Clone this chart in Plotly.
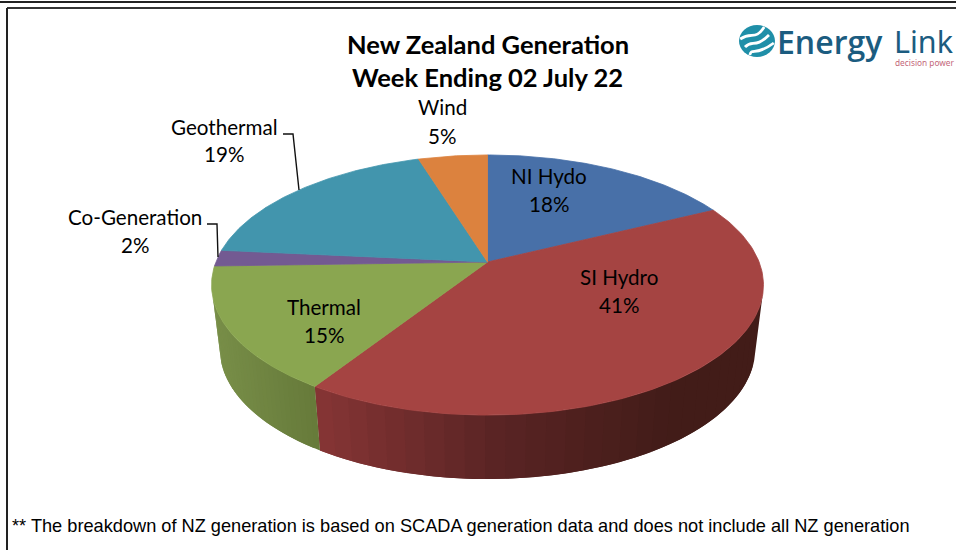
import numpy as np
import plotly.graph_objects as go

# ---- data ----
categories = ["NI Hydo", "SI Hydro", "Thermal", "Co-Generation", "Geothermal", "Wind"]
values = [17.7, 41.4, 15.4, 2.0, 18.7, 4.8]
title_lines = ["New Zealand Generation", "Week Ending 02 July 22"]
footnote = "** The breakdown of NZ generation is based on SCADA generation data and does not include all NZ generation"

# ---- style ----
top_colors = ["#4870a8", "#a54442", "#8aa650", "#735a92", "#4295ad", "#dc823e"]
side_stops = {
    1: [(0.0, (134, 53, 53)), (0.4, (90, 36, 36)), (0.8, (66, 28, 24)), (1.0, (66, 28, 24))],
    2: [(0.0, (120, 142, 72)), (1.0, (102, 122, 58))],
}
CX, CY, A, B, K = 487.5, 262.0, 271.6, 126.0, 0.177
DEPTH = 64.0
LOWER_SCALE = 0.97
label_pos = [(549, 176, 204), (619, 277, 305), (324, 307, 335), (135, 217, 245), (224, 127, 154), (442, 107, 136)]
FONT = "Lato"


def project(theta, dy=0.0):
    s, z = np.sin(theta), np.cos(theta)
    w = 1 + K * z
    return CX + A * s / w, CY + dy - B * z / w


fig = go.Figure()


def poly(x, y, color, lw=0.8):
    fig.add_trace(go.Scatter(x=x, y=y, mode="lines", fill="toself", fillcolor=color,
                             line=dict(color=color, width=lw), hoverinfo="skip", showlegend=False))


def shade(stops, t):
    t = min(max(t, 0), 1)
    for (t0, c0), (t1, c1) in zip(stops, stops[1:]):
        if t <= t1:
            f = (t - t0) / (t1 - t0)
            return "rgb(%d,%d,%d)" % tuple(round(a + (b - a) * f) for a, b in zip(c0, c1))
    return "rgb(%d,%d,%d)" % stops[-1][1]


cum = np.cumsum([0] + values) / sum(values) * 2 * np.pi
SIL_R, SIL_L = np.radians(105), np.radians(254)

# front side wall, drawn as shaded strips; each overlaps the following ones so no seams show
for i, stops in side_stops.items():
    a0, a1 = max(cum[i], SIL_R), min(cum[i + 1], SIL_L)
    edges = np.linspace(a0, a1, 31)
    x_lo, x_hi = project(a1)[0], project(a0)[0]
    for j in range(len(edges) - 1):
        th = np.linspace(edges[j], edges[min(j + 2, len(edges) - 1)], 6)
        xt, yt = project(th)
        xb, yb = project(th[::-1], DEPTH)
        xb = CX + (xb - CX) * LOWER_SCALE
        mid = project((edges[j] + edges[j + 1]) / 2)[0]
        t = (mid - x_lo) / (x_hi - x_lo)
        poly(np.r_[xt, xb, xt[0]], np.r_[yt, yb, yt[0]], shade(stops, t), lw=0)

# top face
for i, col in enumerate(top_colors):
    th = np.linspace(cum[i], cum[i + 1], 120)
    xa, ya = project(th)
    poly(np.r_[CX, xa, CX], np.r_[CY, ya, CY], col)

# leader lines
for xs, ys in [([283, 293, 299], [134, 134, 190]), ([207, 217, 218], [224, 224, 257])]:
    fig.add_trace(go.Scatter(x=xs, y=ys, mode="lines", line=dict(color="#111111", width=1.4),
                             hoverinfo="skip", showlegend=False))

ann = []


def text(x, y, s, size, color="#000000", family=FONT, anchor="center", weight=None):
    f = dict(size=size, color=color, family=family)
    if weight:
        f["weight"] = weight
    ann.append(dict(x=x, y=y, xref="x", yref="y", text=s, showarrow=False, xanchor=anchor,
                    yanchor="middle", font=f))


total = sum(values)
for name, v, (lx, ly1, ly2) in zip(categories, values, label_pos):
    text(lx, ly1, name, 20.6)
    text(lx, ly2, f"{round(v / total * 100)}%", 20.6)
text(487.5, 43.5, f"<b>{title_lines[0]}</b>", 25.5)
text(487.5, 76.5, f"<b>{title_lines[1]}</b>", 25.5)
text(10, 526, footnote, 18.2, family="Liberation Sans", anchor="left")
text(775, 41, "Energy", 32, color="#1b5c80", family="Open Sans", anchor="left", weight=600)
text(956, 41, "Link", 30.5, color="#1b5c80", family="Noto Sans", anchor="right")
text(956, 62, "decision power", 8.3, color="#c4677a", family="Noto Sans", anchor="right")

shapes = [
    dict(type="line", x0=0, x1=956, y0=2, y1=2, line=dict(color="#222222", width=2)),
    dict(type="line", x0=7, x1=956, y0=8, y1=8, line=dict(color="#333333", width=2)),
    dict(type="line", x0=7, x1=7, y0=8, y1=550, line=dict(color="#222222", width=2)),
    dict(type="circle", x0=739, x1=775, y0=25, y1=57, fillcolor="#1f8fa8", line=dict(width=0)),
]
for off in (-8, 0, 8):
    shapes.append(dict(type="path",
                       path=f"M {745+off*0.6} {47+off} C 752 {39+off}, 755 {49+off}, {769+off*0.6} {35+off}",
                       line=dict(color="#ffffff", width=2.8)))

fig.update_layout(
    width=956, height=550, margin=dict(l=0, r=0, t=0, b=0),
    paper_bgcolor="#ffffff", plot_bgcolor="#ffffff",
    xaxis=dict(range=[0, 956], visible=False, fixedrange=True),
    yaxis=dict(range=[550, 0], visible=False, fixedrange=True),
    annotations=ann, shapes=shapes, showlegend=False,
)
fig.write_html("out.html", config={"displayModeBar": False},
               post_script="document.body.style.margin='0';document.body.style.overflow='hidden';")
